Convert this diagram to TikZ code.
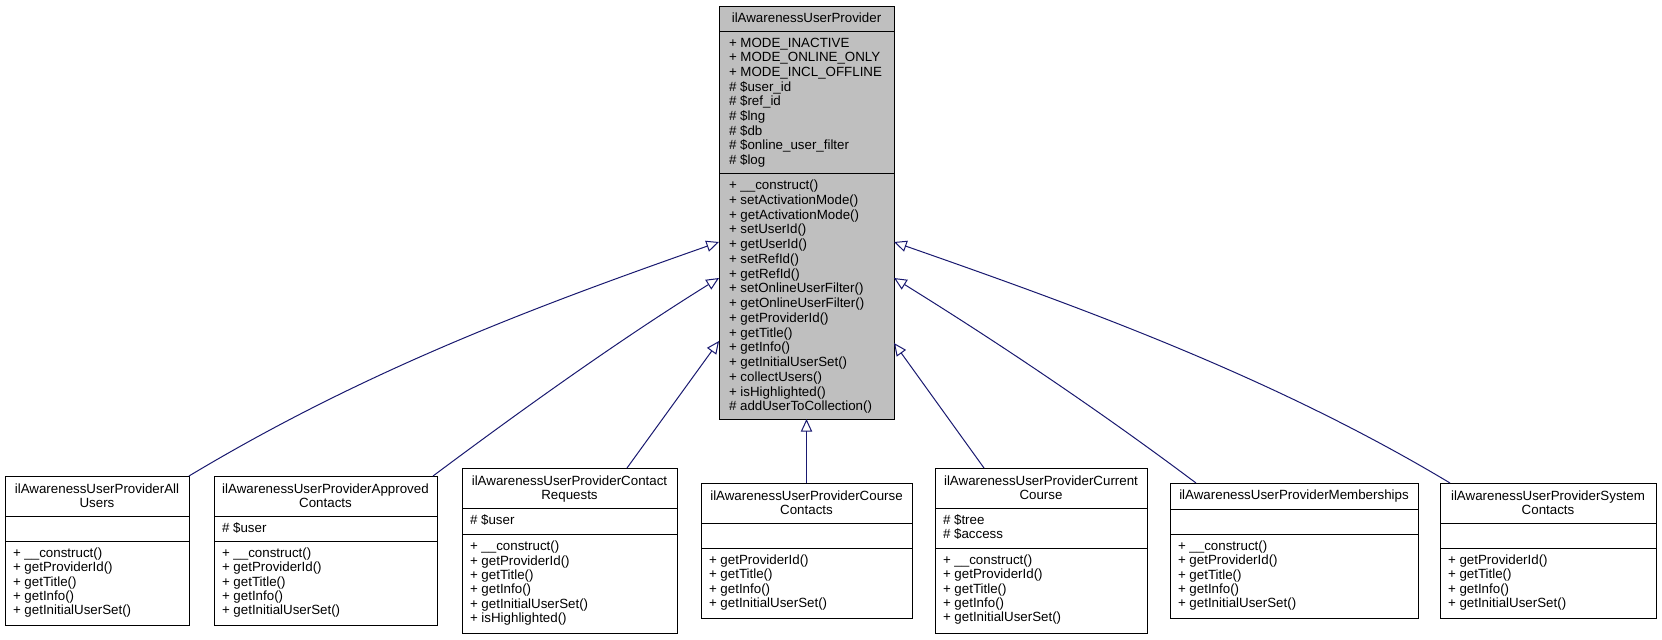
\documentclass[tikz,border=0pt]{standalone}
\usepackage{fontspec}
\setmainfont{Liberation Sans}
\usetikzlibrary{arrows.meta}
\definecolor{edgeblue}{HTML}{191970}
\definecolor{greyfill}{HTML}{BFBFBF}
\tikzset{
  clsbox/.style={draw=black,line width=0.75pt,inner sep=0pt,outer sep=0pt,anchor=north west},
  sepline/.style={draw=black,line width=0.75pt},
  txt/.style={font=\fontsize{10}{12}\selectfont,inner sep=0pt,outer sep=0pt},
  inh/.style={draw=edgeblue,line width=0.75pt,-{Triangle[open,length=9.5pt,width=8.5pt]}}
}
% box: name, x, y, w, h, fill
\newcommand\clsbox[6]{\node[clsbox,fill=#6,minimum width=#4*0.75pt,minimum height=#5*0.75pt] (#1) at (#2,#3) {};}
% separators: x1, x2, y
\newcommand\sepat[3]{\draw[sepline] (#1,#3) -- (#2,#3);}
% left aligned lines: prefix, x, first centre y, spacing, list
\newcommand\mlines[5]{\foreach \t [count=\i from 0] in {#5}{\node[txt,anchor=base west] (#1\i) at (#2,{#3+\i*#4+3.6}) {\t};}}
% centred title lines
\newcommand\tlines[5]{\foreach \t [count=\i from 0] in {#5}{\node[txt,anchor=base] (#1\i) at (#2,{#3+\i*#4+3.6}) {\t};}}
\begin{document}
\begin{tikzpicture}[x=0.75pt,y=-0.75pt]
\useasboundingbox[fill=white] (0,0) rectangle (1662,639);

% ---------- parent ----------
\clsbox{top}{719}{6}{175}{413}{greyfill}
\sepat{719}{894}{31}
\sepat{719}{894}{173}
\tlines{topt}{806.5}{18.5}{14}{ilAwarenessUserProvider}
\mlines{topa}{729}{43.5}{14.65}{+ MODE\_INACTIVE,+ MODE\_ONLINE\_ONLY,+ MODE\_INCL\_OFFLINE,\# \$user\_id,\# \$ref\_id,\# \$lng,\# \$db,\# \$online\_user\_filter,\# \$log}
\mlines{topm}{729}{186}{14.75}{+ \_\_construct(),+ setActivationMode(),+ getActivationMode(),+ setUserId(),+ getUserId(),+ setRefId(),+ getRefId(),+ setOnlineUserFilter(),+ getOnlineUserFilter(),+ getProviderId(),+ getTitle(),+ getInfo(),+ getInitialUserSet(),+ collectUsers(),+ isHighlighted(),\# addUserToCollection()}

% ---------- children ----------
\clsbox{b1}{5}{476}{184}{149}{white}
\sepat{5}{189}{516}\sepat{5}{189}{541}
\tlines{b1t}{97}{489.5}{14}{ilAwarenessUserProviderAll,Users}
\mlines{b1m}{13}{554}{14.3}{+ \_\_construct(),+ getProviderId(),+ getTitle(),+ getInfo(),+ getInitialUserSet()}

\clsbox{b2}{214}{476}{223}{149}{white}
\sepat{214}{437}{516}\sepat{214}{437}{541}
\tlines{b2t}{325.5}{489.5}{14}{ilAwarenessUserProviderApproved,Contacts}
\mlines{b2a}{222}{528.5}{14.3}{\# \$user}
\mlines{b2m}{222}{554}{14.3}{+ \_\_construct(),+ getProviderId(),+ getTitle(),+ getInfo(),+ getInitialUserSet()}

\clsbox{b3}{462}{468}{215}{165}{white}
\sepat{462}{677}{508}\sepat{462}{677}{534}
\tlines{b3t}{569.5}{481.5}{14}{ilAwarenessUserProviderContact,Requests}
\mlines{b3a}{470}{521}{14.3}{\# \$user}
\mlines{b3m}{470}{547}{14.4}{+ \_\_construct(),+ getProviderId(),+ getTitle(),+ getInfo(),+ getInitialUserSet(),+ isHighlighted()}

\clsbox{b4}{701}{483}{211}{135}{white}
\sepat{701}{912}{523}\sepat{701}{912}{548}
\tlines{b4t}{806.5}{496.5}{14}{ilAwarenessUserProviderCourse,Contacts}
\mlines{b4m}{709}{561}{14.3}{+ getProviderId(),+ getTitle(),+ getInfo(),+ getInitialUserSet()}

\clsbox{b5}{935}{468}{212}{165}{white}
\sepat{935}{1147}{508}\sepat{935}{1147}{548}
\tlines{b5t}{1041}{481.5}{14}{ilAwarenessUserProviderCurrent,Course}
\mlines{b5a}{943}{521}{14}{\# \$tree,\# \$access}
\mlines{b5m}{943}{561}{14.3}{+ \_\_construct(),+ getProviderId(),+ getTitle(),+ getInfo(),+ getInitialUserSet()}

\clsbox{b6}{1170}{483}{248}{135}{white}
\sepat{1170}{1418}{509}\sepat{1170}{1418}{534}
\tlines{b6t}{1294}{496}{14}{ilAwarenessUserProviderMemberships}
\mlines{b6m}{1178}{547}{14.3}{+ \_\_construct(),+ getProviderId(),+ getTitle(),+ getInfo(),+ getInitialUserSet()}

\clsbox{b7}{1440}{483}{216}{135}{white}
\sepat{1440}{1656}{523}\sepat{1440}{1656}{548}
\tlines{b7t}{1548}{496.5}{14}{ilAwarenessUserProviderSystem,Contacts}
\mlines{b7m}{1448}{561}{14.3}{+ getProviderId(),+ getTitle(),+ getInfo(),+ getInitialUserSet()}

% ---------- attachment points ----------
\coordinate (pL1) at (top.west |- 0,242);
\coordinate (pL2) at (top.west |- 0,278);
\coordinate (pL3) at (top.west |- 0,341);
\coordinate (pR1) at (top.east |- 0,242);
\coordinate (pR2) at (top.east |- 0,278);
\coordinate (pR3) at (top.east |- 0,343);
\coordinate (c2) at (b2.north west -| 433,0);
\coordinate (c3) at (b3.north west -| 627,0);
\coordinate (c5) at (b5.north west -| 984,0);
\coordinate (c6) at (b6.north west -| 1196,0);
\coordinate (c7) at (b7.north west -| 1450,0);

% ---------- inheritance edges ----------
\draw[inh] (b1.north east) .. controls (369,368) and (540,305) .. (pL1);
\draw[inh] (c2) .. controls (528,405) and (624,337) .. (pL2);
\draw[inh] (c3) -- (pL3);
\draw[inh] (b4.north) -- (top.south);
\draw[inh] (c5) -- (pR3);
\draw[inh] (c6) .. controls (1096,408) and (994,340) .. (pR2);
\draw[inh] (c7) .. controls (1270,375) and (1074,305) .. (pR1);
\end{tikzpicture}
\end{document}
